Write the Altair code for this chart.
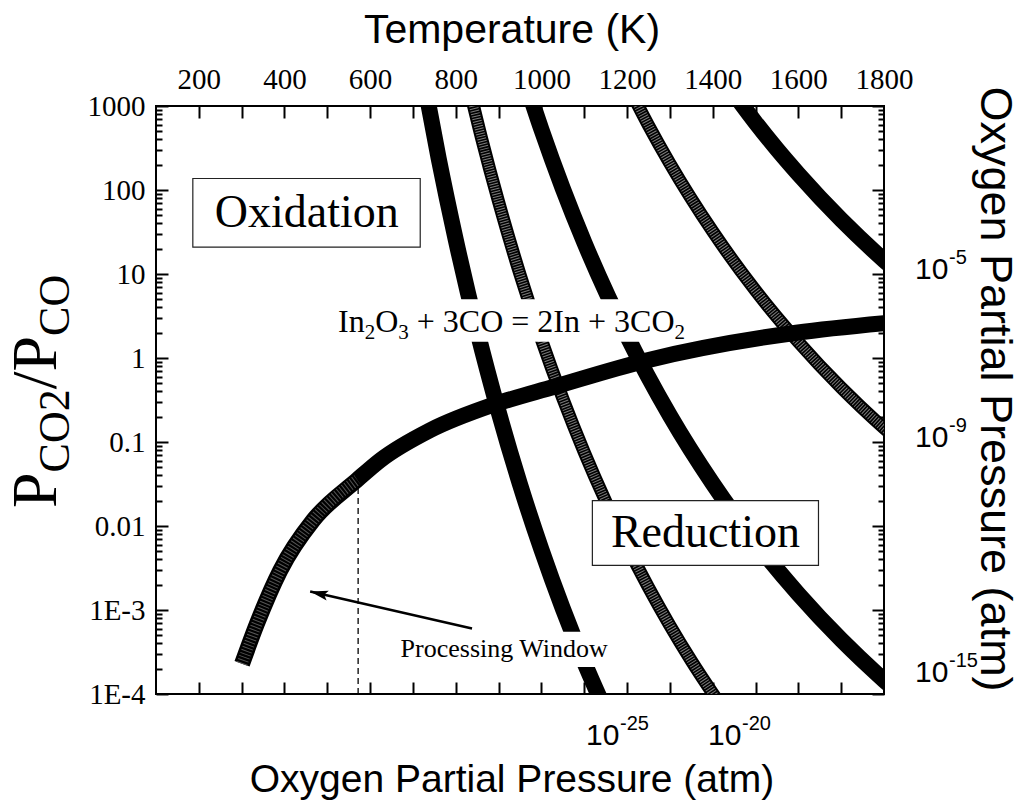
import altair as alt
import pandas as pd

# ---------------- values ----------------
# equilibrium In2O3 + 3CO = 2In + 3CO2 : temperature (K) -> P_CO2/P_CO
eq_temp = [301, 336, 390, 467, 570, 623, 740, 890, 1030, 1243, 1595, 1800]
eq_ratio = [2.29e-4, 6.92e-4, 2.95e-3, 0.0117, 0.0355, 0.0603, 0.138, 0.280,
            0.455, 0.93, 2.0, 2.6]

# iso oxygen-partial-pressure lines (temperature, P_CO2/P_CO)
iso25_temp = [720, 760, 800, 850, 900, 950, 1000, 1050, 1100, 1150]
iso25_ratio = [2858, 239, 25.6, 2.10, 0.229, 0.0313, 0.00525, 0.00104, 2.39e-4, 6.25e-5]
iso20_temp = [820, 860, 900, 950, 1000, 1050, 1100, 1150, 1200, 1250, 1300, 1350, 1420]
iso20_ratio = [2870, 418, 72.3, 9.91, 1.66, 0.330, 0.0757, 0.0198, 0.00578, 0.00186,
               6.55e-4, 2.49e-4, 7.19e-5]
iso15_temp = [960, 1000, 1050, 1100, 1200, 1300, 1400, 1500, 1600, 1700, 1800, 1850]
iso15_ratio = [2160, 525, 104, 23.9, 1.83, 0.207, 0.0321, 0.00635, 0.00155, 4.43e-4,
               1.46e-4, 8.77e-5]
iso9_temp = [1200, 1250, 1300, 1400, 1500, 1600, 1700, 1800, 1850]
iso9_ratio = [1830, 589, 207, 32.1, 6.35, 1.55, 0.443, 0.146, 0.0877]
iso5_temp = [1440, 1500, 1550, 1600, 1700, 1800, 1850]
iso5_ratio = [1630, 635, 306, 155, 44.3, 14.6, 8.77]

# processing window marker and arrow
window_temp = [572]
window_ratio = [1e-4]
window_ratio_top = [0.03]
arrow_temp = [838, 460]
arrow_ratio = [6.03e-4, 1.66e-3]

# axis ticks / labels
temp_ticks = list(range(200, 1800, 100))
temp_labels = list(range(200, 2000, 200))
ratio_ticks = [1e-4, 1e-3, 0.01, 0.1, 1, 10, 100, 1000]
ratio_minor = [m * 10.0 ** e for e in range(-4, 3) for m in range(2, 10)]

# ---------------- tables ----------------
def series(name, t, r):
    return pd.DataFrame({"T": t, "ratio": r, "series": name})

df_solid = pd.concat([series("1e-25", iso25_temp, iso25_ratio),
                      series("1e-15", iso15_temp, iso15_ratio),
                      series("1e-5", iso5_temp, iso5_ratio)])
df_striped = pd.concat([series("1e-20", iso20_temp, iso20_ratio),
                        series("1e-9", iso9_temp, iso9_ratio)])
df_eq = pd.DataFrame({"T": eq_temp, "ratio": eq_ratio})
df_eq_low = df_eq[df_eq["T"] <= 570]
df_dash = pd.DataFrame({"T": window_temp, "ratio": window_ratio, "ratio2": window_ratio_top})
df_arrow = pd.DataFrame({"T": arrow_temp, "ratio": arrow_ratio, "o": [0, 1]})
df_head = pd.DataFrame({"T": arrow_temp[1:], "ratio": arrow_ratio[1:]})
dummy = pd.DataFrame({"k": [0]})

xs = alt.Scale(domain=[100, 1800], nice=False, zero=False)
ys = alt.Scale(type="log", domain=[1e-4, 1000], nice=False)

SERIF = "Liberation Serif"
SANS = "Liberation Sans"


def ex(axis=None):
    return alt.X("T:Q", scale=xs, axis=axis)


def ey(axis=None):
    return alt.Y("ratio:Q", scale=ys, axis=axis)


def tick_axis(orient, values, size):
    return alt.Axis(orient=orient, values=values, tickSize=size, offset=-size,
                    domain=False, labels=False, grid=False, ticks=True,
                    tickColor="black", tickWidth=2, title=None)


top_label_axis = alt.Axis(orient="top", values=temp_labels, ticks=False, tickSize=0,
                          domain=False, grid=False, labelFont=SERIF, labelFontSize=29,
                          labelColor="black", labelPadding=12, labelFlush=False,
                          labelOverlap=False, format="d", title=None)
left_label_axis = alt.Axis(orient="left", values=ratio_ticks, ticks=False, tickSize=0,
                           domain=False, grid=False, labelFont=SERIF, labelFontSize=29,
                           labelColor="black", labelPadding=11, labelFlush=False,
                           labelOverlap=False, labelBaseline="middle",
                           labelExpr="datum.value < 0.0005 ? '1E-4' : datum.value < 0.005 ? '1E-3' : datum.value < 0.05 ? '0.01' : datum.value < 0.5 ? '0.1' : format(datum.value, 'd')",
                           title=None)

line_kw = dict(clip=True, interpolate="monotone", strokeCap="butt")

solid = alt.Chart(df_solid).mark_line(color="black", strokeWidth=16, **line_kw).encode(
    x=ex(tick_axis("bottom", temp_ticks, 12)),
    y=ey(tick_axis("left", ratio_ticks, 12)),
    detail="series:N")
striped_base = alt.Chart(df_striped).mark_line(color="black", strokeWidth=13, **line_kw).encode(
    x=ex(tick_axis("top", temp_ticks, 12)),
    y=ey(tick_axis("left", ratio_minor, 6)),
    detail="series:N")
striped_top = alt.Chart(df_striped).mark_line(color="#7a7a7a", strokeWidth=9,
                                              strokeDash=[1, 1.6], **line_kw).encode(
    x=ex(top_label_axis),
    y=ey(left_label_axis),
    detail="series:N")
main = alt.Chart(df_eq).mark_line(color="black", strokeWidth=16, **line_kw).encode(
    x=ex(None), y=ey(tick_axis("right", ratio_ticks, 12)))
main_low = alt.Chart(df_eq_low).mark_line(color="#555555", strokeWidth=11,
                                          strokeDash=[1, 2.2], **line_kw).encode(
    x=ex(None), y=ey(None))
dashed = alt.Chart(df_dash).mark_rule(color="black", strokeWidth=1.3, strokeDash=[6, 4]).encode(
    x=ex(None), y=ey(tick_axis("right", ratio_minor, 6)), y2="ratio2:Q")
arrow_line = alt.Chart(df_arrow).mark_line(color="black", strokeWidth=2.5).encode(
    x=ex(), y=ey(), order="o:Q")
arrow_head = alt.Chart(df_head).mark_point(shape="M0,0 L0.55,2 L0,1.6 L-0.55,2 Z", size=324,
                                           angle=283, filled=True, color="black",
                                           opacity=1).encode(x=ex(), y=ey())


def box(t1, t2, r1, r2, stroke="#222"):
    d = pd.DataFrame({"T": [t1], "T2": [t2], "ratio": [r1], "ratio2": [r2]})
    kw = dict(fill="white", strokeWidth=1.2, stroke=stroke) if stroke else dict(fill="white")
    return alt.Chart(d).mark_rect(**kw).encode(x=ex(), x2="T2:Q", y=ey(), y2="ratio2:Q")


def dtext(text, t, r, size, font=SERIF, align="center", baseline="middle", dx=0, dy=0):
    d = pd.DataFrame({"T": [t], "ratio": [r]})
    return alt.Chart(d).mark_text(text=text, font=font, fontSize=size, align=align,
                                  baseline=baseline, dx=dx, dy=dy, color="black").encode(
        x=ex(), y=ey())


def ptext(text, px, py, size, font=SANS, align="left", baseline="alphabetic", angle=0, dx=0, dy=0):
    return alt.Chart(dummy).mark_text(text=text, font=font, fontSize=size, align=align,
                                      baseline=baseline, angle=angle, dx=dx, dy=dy,
                                      color="black").encode(x=alt.value(px), y=alt.value(py))


annotations = [
    box(186, 717, 20.9, 137),
    dtext("Oxidation", 452, 53.6, 46),
    box(1119, 1647, 0.0034, 0.0200),
    dtext("Reduction", 1383, 0.00824, 46),
    box(521, 1353, 1.56, 4.99, stroke=None),
    box(647, 1184, 2.09e-4, 5.5e-4, stroke=None),
    dtext("Processing Window", 913, 3.47e-4, 26),
]

# equation pieces: (text, dx, dy, size)
eq_pieces = [("In", 0, 0, 32), ("2", 26.7, 7, 21), ("O", 37.2, 0, 32), ("3", 60.3, 7, 21),
             ("+ 3CO = 2In + 3CO", 78.8, 0, 32), ("2", 336.5, 7, 21)]
for txt, dx, dy, fs in eq_pieces:
    annotations.append(dtext(txt, 525, 2.06, fs, align="left", baseline="alphabetic", dx=dx, dy=dy))

outside = [
    ptext("Temperature (K)", 356, -63, 41, align="center"),
    ptext("Oxygen Partial Pressure (atm)", 356, 686, 39, align="center"),
    ptext("Oxygen Partial Pressure (atm)", 839, 283, 45, align="center", baseline="middle", angle=90),
]
# bottom labels 10^-25, 10^-20
for left, sup in [(430, "-25"), (552, "-20")]:
    outside.append(ptext("10", left, 639, 30))
    outside.append(ptext(sup, left + 34, 624, 20))
# right labels 10^-5, 10^-9, 10^-15
for base, sup in [(173, "-5"), (341, "-9"), (576, "-15")]:
    outside.append(ptext("10", 759, base, 30))
    outside.append(ptext(sup, 793, base - 15, 20))
# y title P_CO2/P_CO (rotated)
for txt, dx, dy, fs in [("P", 0, 0, 64), ("CO2", 35.6, 13, 44), ("/P", 118.7, 0, 64), ("CO", 172.1, 13, 44)]:
    outside.append(ptext(txt, -100, 402, fs, font=SERIF, angle=270, dx=dx, dy=dy))

chart = alt.layer(solid, striped_base, striped_top, main, main_low, dashed, arrow_line, arrow_head,
                  *annotations, *outside).resolve_axis(x="independent", y="independent").properties(
    width=728, height=588,
    autosize=alt.AutoSizeParams(type="none"),
    padding={"left": 156, "top": 106, "right": 141, "bottom": 109},
    background="white",
).configure_view(stroke="black", strokeWidth=2)

chart.save("out.html", embed_options={"renderer": "svg", "actions": False})
